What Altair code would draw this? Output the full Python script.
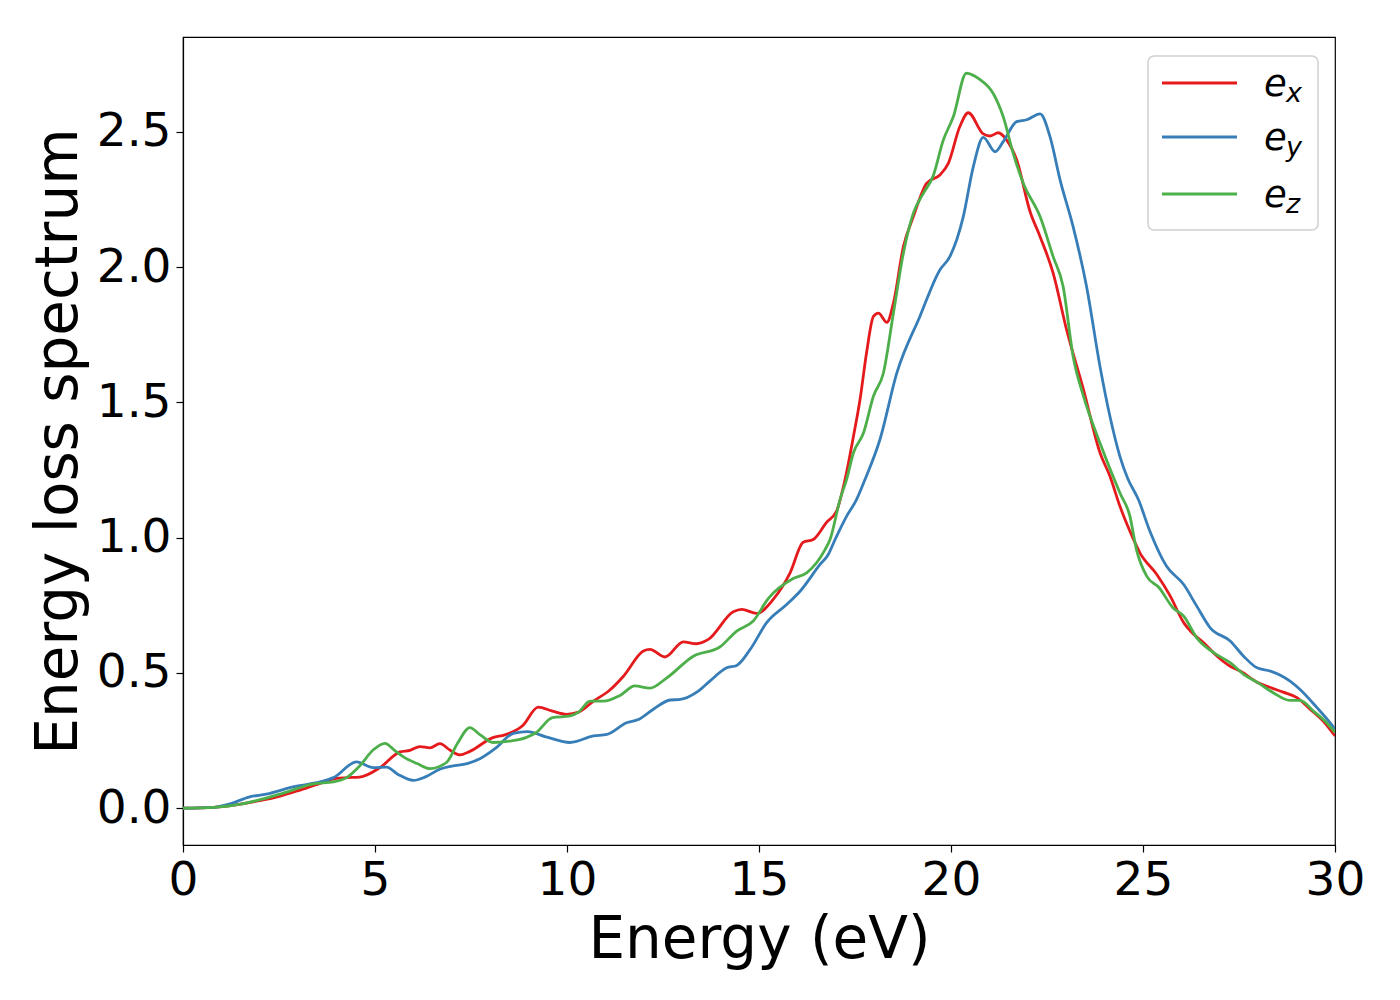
import altair as alt
import pandas as pd

# ---------------- data ----------------
energy_ex = [0, 0.8, 1.5, 2.0, 2.53, 3.0, 3.57, 4.0, 4.26, 4.6, 5.13, 5.65, 5.91, 6.17, 6.43, 6.69,
             6.95, 7.21, 7.47, 8.07, 8.38, 8.85, 9.25, 9.6, 9.99, 10.3, 10.69, 11.1, 11.47, 11.99,
             12.16, 12.55, 13.03, 13.37, 13.68, 14.33, 14.55, 14.94, 15.37, 15.81, 16.15, 16.41,
             16.76, 17.02, 17.24, 17.46, 17.63, 17.8, 17.98, 18.11, 18.33, 18.5, 18.76, 19.02,
             19.37, 19.71, 19.93, 20.23, 20.45, 20.84, 21.02, 21.23, 21.45, 21.71, 22.06, 22.32,
             22.66, 23.01, 23.45, 23.88, 24.14, 24.4, 24.66, 24.92, 25.36, 25.71, 26.06, 26.32,
             26.58, 26.93, 27.27, 27.53, 27.97, 28.32, 28.65, 29.01, 29.35, 29.69, 30.0]
loss_ex = [0, 0.003, 0.015, 0.028, 0.045, 0.065, 0.092, 0.11, 0.113, 0.115, 0.150, 0.208, 0.214,
           0.228, 0.223, 0.239, 0.215, 0.197, 0.21, 0.261, 0.271, 0.306, 0.374, 0.36, 0.347, 0.355,
           0.396, 0.435, 0.488, 0.581, 0.587, 0.559, 0.615, 0.608, 0.624, 0.726, 0.735, 0.72,
           0.772, 0.870, 0.983, 0.993, 1.057, 1.098, 1.215, 1.375, 1.51, 1.683, 1.818, 1.83,
           1.796, 1.867, 2.076, 2.187, 2.311, 2.341, 2.384, 2.52, 2.571, 2.493, 2.485, 2.497,
           2.470, 2.397, 2.205, 2.113, 1.978, 1.769, 1.547, 1.314, 1.227, 1.116, 1.024, 0.944,
           0.864, 0.784, 0.686, 0.643, 0.612, 0.562, 0.525, 0.507, 0.466, 0.446, 0.429, 0.409,
           0.366, 0.322, 0.267]

energy_ey = [0, 0.8, 1.2, 1.74, 2.17, 2.87, 3.57, 3.92, 4.52, 4.95, 5.3, 5.6, 6.0, 6.3, 6.7, 7.0,
             7.4, 7.73, 8.16, 8.6, 8.97, 9.45, 10.08, 10.69, 11.04, 11.55, 11.86, 12.25, 12.69,
             12.95, 13.38, 13.72, 14.16, 14.42, 14.77, 15.2, 15.72, 16.07, 16.59, 16.8, 16.98,
             17.28, 17.54, 17.76, 18.15, 18.59, 19.19, 19.71, 19.97, 20.32, 20.58, 20.84, 21.15,
             21.36, 21.71, 21.97, 22.32, 22.58, 22.84, 23.18, 23.53, 23.88, 24.14, 24.4, 24.6,
             24.88, 25.18, 25.61, 26.06, 26.4, 26.75, 27.27, 27.62, 27.97, 28.32, 28.83, 29.09,
             29.53, 29.87, 30.0]
loss_ey = [0, 0.003, 0.015, 0.042, 0.052, 0.079, 0.097, 0.113, 0.171, 0.150, 0.152, 0.125, 0.103,
           0.115, 0.145, 0.156, 0.165, 0.183, 0.224, 0.277, 0.283, 0.264, 0.243, 0.267, 0.273,
           0.316, 0.328, 0.366, 0.400, 0.402, 0.429, 0.470, 0.519, 0.528, 0.587, 0.686, 0.753,
           0.802, 0.901, 0.937, 0.993, 1.079, 1.141, 1.215, 1.363, 1.609, 1.818, 1.990, 2.039,
           2.187, 2.371, 2.480, 2.427, 2.464, 2.538, 2.545, 2.567, 2.482, 2.323, 2.15, 1.929,
           1.633, 1.448, 1.3, 1.22, 1.141, 1.024, 0.895, 0.827, 0.747, 0.667, 0.618, 0.562,
           0.519, 0.507, 0.470, 0.439, 0.372, 0.316, 0.292]

energy_ez = [0, 0.8, 1.5, 2.53, 3.4, 3.92, 4.26, 4.6, 4.95, 5.26, 5.5, 5.74, 6.1, 6.43, 6.86, 7.15,
             7.47, 7.75, 8.07, 8.5, 8.93, 9.2, 9.62, 10.08, 10.3, 10.6, 10.95, 11.38, 11.77, 12.16,
             12.6, 13.29, 13.98, 14.42, 14.85, 15.24, 15.89, 16.24, 16.72, 16.85, 17.11, 17.28,
             17.46, 17.72, 17.98, 18.24, 18.5, 18.76, 19.02, 19.28, 19.53, 19.8, 20.06, 20.4,
             20.75, 21.1, 21.36, 21.62, 21.88, 22.32, 22.66, 22.92, 23.18, 23.45, 23.88, 24.4,
             24.66, 24.83, 25.1, 25.42, 25.78, 26.06, 26.4, 26.84, 27.27, 27.62, 27.97, 28.39,
             28.82, 29.09, 29.44, 29.78, 30.0]
loss_ez = [0, 0.003, 0.015, 0.052, 0.090, 0.097, 0.113, 0.156, 0.215, 0.240, 0.215, 0.19, 0.165,
           0.146, 0.169, 0.24, 0.298, 0.27, 0.243, 0.248, 0.261, 0.28, 0.335, 0.341, 0.355, 0.396,
           0.396, 0.417, 0.452, 0.444, 0.482, 0.562, 0.596, 0.655, 0.692, 0.775, 0.849, 0.87,
           0.956, 0.993, 1.141, 1.215, 1.314, 1.387, 1.523, 1.609, 1.830, 2.052, 2.2, 2.273,
           2.335, 2.470, 2.556, 2.717, 2.694, 2.642, 2.556, 2.421, 2.311, 2.187, 2.039, 1.929,
           1.670, 1.523, 1.350, 1.165, 1.079, 0.956, 0.857, 0.815, 0.741, 0.710, 0.630, 0.575,
           0.538, 0.495, 0.466, 0.427, 0.399, 0.399, 0.359, 0.316, 0.28]

series_colors = ["#e41a1c", "#377eb8", "#4daf4a"]
legend_subs = ["x", "y", "z"]
x_ticks = [0, 5, 10, 15, 20, 25, 30]
y_ticks = [0.0, 0.5, 1.0, 1.5, 2.0, 2.5]
x_title = "Energy (eV)"
y_title = "Energy loss spectrum"

# ---------------- chart ----------------
W, H = 1152, 808
FONT = "DejaVu Sans"
x_scale = alt.Scale(domain=[0, 30], nice=False, zero=False)
y_scale = alt.Scale(domain=[-0.136, 2.851], nice=False, zero=False)
x_axis = alt.Axis(values=x_ticks, title=x_title, format="d")
y_axis = alt.Axis(values=y_ticks, title=y_title, format=".1f")


def series_line(energy, loss, color):
    df = pd.DataFrame({"E": energy, "L": loss})
    return alt.Chart(df).mark_line(
        color=color, strokeWidth=2.8, interpolate="monotone", clip=True
    ).encode(
        x=alt.X("E:Q", scale=x_scale, axis=x_axis),
        y=alt.Y("L:Q", scale=y_scale, axis=y_axis),
    )


lines = [
    series_line(energy_ex, loss_ex, series_colors[0]),
    series_line(energy_ey, loss_ey, series_colors[1]),
    series_line(energy_ez, loss_ez, series_colors[2]),
]

# ---------------- legend (mathtext-like e with subscript) ----------------
one = pd.DataFrame({"a": [0]})
legend_box = alt.Chart(one).mark_rect(
    fill="white", stroke="#cccccc", strokeWidth=1.5, cornerRadius=6, opacity=0.9
).encode(x=alt.value(965), x2=alt.value(1135), y=alt.value(19), y2=alt.value(193))

row_y = [46, 100, 157]
legend_layers = [legend_box]
for i in range(3):
    ly = row_y[i]
    legend_layers.append(
        alt.Chart(one).mark_rule(color=series_colors[i], strokeWidth=2.8).encode(
            x=alt.value(979), x2=alt.value(1054), y=alt.value(ly)
        )
    )
    legend_layers.append(
        alt.Chart(one).mark_text(
            text="e", font=FONT, fontSize=37, fontStyle="italic", align="left",
            baseline="alphabetic", color="black"
        ).encode(x=alt.value(1081), y=alt.value(ly + 13))
    )
    legend_layers.append(
        alt.Chart(one).mark_text(
            text=legend_subs[i], font=FONT, fontSize=27, fontStyle="italic", align="left",
            baseline="alphabetic", color="black"
        ).encode(x=alt.value(1103), y=alt.value(ly + 19))
    )

chart = alt.layer(*lines, *legend_layers).properties(
    width=W, height=H,
    autosize=alt.AutoSizeParams(type="none"),
    padding={"left": 175, "top": 29, "right": 40, "bottom": 130},
    background="white",
).configure_axis(
    labelFont=FONT, titleFont=FONT, labelFontSize=47, titleFontSize=58,
    titleFontWeight="normal", labelColor="black", titleColor="black",
    tickColor="black", domainColor="black", tickSize=7, tickWidth=1.2,
    domainWidth=1.2, grid=False, labelFlush=False,
).configure_axisX(labelPadding=5, titlePadding=8).configure_axisY(
    labelPadding=5, titlePadding=8
).configure_view(stroke="black", strokeWidth=1.2)

chart.save("out.html", embed_options={"renderer": "svg", "actions": False})
